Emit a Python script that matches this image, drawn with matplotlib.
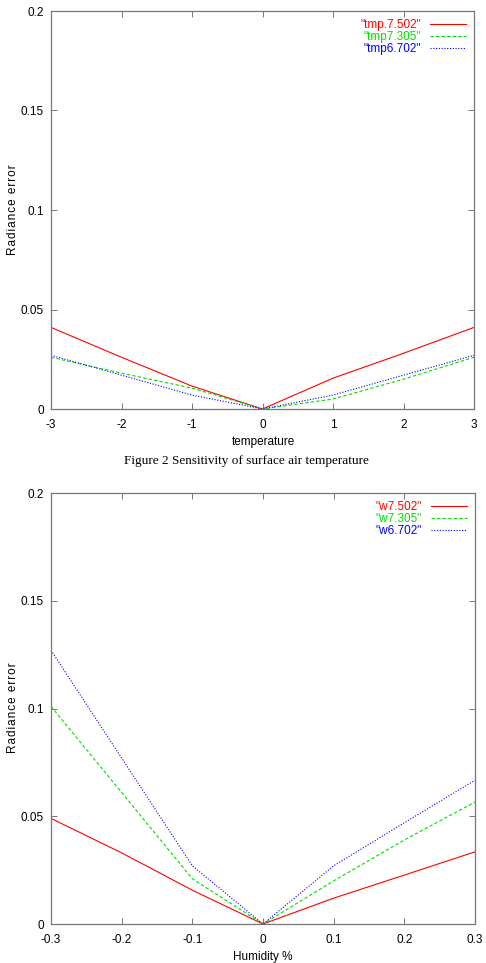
import matplotlib
matplotlib.use('Agg')
import matplotlib.pyplot as plt

# temperature sensitivity
temp = [-3, -2, -1, 0, 1, 2, 3]
tmp_7502 = [0.041, 0.026, 0.0115, 0.0, 0.0155, 0.028, 0.041]
tmp_7305 = [0.026, 0.018, 0.0105, 0.0, 0.005, 0.015, 0.026]
tmp_6702 = [0.027, 0.017, 0.007, 0.0, 0.007, 0.017, 0.027]

# humidity sensitivity
humid = [-0.3, -0.2, -0.1, 0.0, 0.1, 0.2, 0.3]
w_7502 = [0.049, 0.033, 0.0157, 0.0, 0.012, 0.0227, 0.0335]
w_7305 = [0.101, 0.061, 0.021, 0.0, 0.020, 0.039, 0.0566]
w_6702 = [0.127, 0.077, 0.027, 0.0, 0.027, 0.047, 0.0667]

plt.rcParams['font.family'] = ['Liberation Sans', 'DejaVu Sans']
FRAME = '#777777'
W, H = 486, 963


def style_axes(ax, xticks, xlabels):
    ax.set_ylim(0, 0.2)
    ax.set_yticks([0, 0.05, 0.1, 0.15, 0.2])
    ax.set_yticklabels(['0', '0.05', '0.1', '0.15', '0.2'])
    ax.set_xticks(xticks)
    ax.set_xticklabels(xlabels)
    ax.set_xlim(xticks[0], xticks[-1])
    ax.tick_params(direction='in', top=True, right=True, length=4,
                   width=0.7, color=FRAME, labelsize=8.5)
    ax.tick_params(axis='x', pad=7)
    ax.tick_params(axis='y', pad=5)
    for s in ax.spines.values():
        s.set_color(FRAME)
        s.set_linewidth(0.9)
    ax.legend(loc='upper right', frameon=False, markerfirst=False,
              labelcolor='linecolor', handlelength=3.0,
              fontsize=8.5, labelspacing=0.0, borderaxespad=0.3,
              handletextpad=0.8)


fig = plt.figure(figsize=(W / 100, H / 100), dpi=100)
ax1 = fig.add_axes([51 / W, 1 - 409 / H, 423 / W, 398 / H])
ax2 = fig.add_axes([51 / W, 1 - 924 / H, 424 / W, 431 / H])

ax1.plot(temp, tmp_7502, color='#ff0000', lw=0.8, label='"tmp.7.502"')
ax1.plot(temp, tmp_7305, color='#00dd00', lw=0.8, ls=(0, (3, 2)),
         label='"tmp7.305"')
ax1.plot(temp, tmp_6702, color='#0000ff', lw=0.8, ls=(0, (1, 1.5)),
         label='"tmp6.702"')
style_axes(ax1, [-3, -2, -1, 0, 1, 2, 3],
           ['-3', '-2', '-1', '0', '1', '2', '3'])

ax2.plot(humid, w_7502, color='#ff0000', lw=0.8, label='"w7.502"')
ax2.plot(humid, w_7305, color='#00dd00', lw=0.8, ls=(0, (3, 2)),
         label='"w7.305"')
ax2.plot(humid, w_6702, color='#0000ff', lw=0.8, ls=(0, (1, 1.5)),
         label='"w6.702"')
style_axes(ax2, [-0.3, -0.2, -0.1, 0, 0.1, 0.2, 0.3],
           ['-0.3', '-0.2', '-0.1', '0', '0.1', '0.2', '0.3'])

# axis titles placed like the gnuplot original (y title is letter-spaced)
fig.text(263 / W, 1 - 442 / H, 'temperature', ha='center', va='center',
         fontsize=8.5)
fig.text(263 / W, 1 - 957 / H, 'Humidity %', ha='center', va='center',
         fontsize=8.5)
ylab = '\u200a'.join('Radiance error')
for yc in (210, 708):
    fig.text(13 / W, 1 - yc / H, ylab, rotation=90,
             ha='center', va='center', fontsize=8.5)

fig.text(246 / W, 1 - 461 / H,
         'Figure 2 Sensitivity of surface air temperature',
         ha='center', va='center', fontsize=9.5, family='Liberation Serif')

fig.savefig('out.png', dpi=100)
